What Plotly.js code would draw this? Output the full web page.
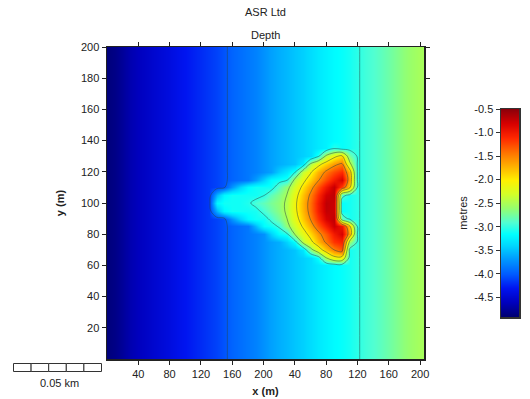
<!DOCTYPE html>
<html>
<head>
<meta charset="utf-8">
<script src="https://cdn.plot.ly/plotly-3.0.1.min.js"></script>
<style>html,body{margin:0;padding:0;background:#fff;}#chart{width:530px;height:399px;}</style>
</head>
<body>
<div id="chart"></div>
<script>
// ---- grid coordinates (m) ----
const xCoords = [0,10,20,30,40,50,60,70,80,90,100,110,120,130,140,150,160,170,180,190,200,210,220,230,240,250,260,270,280,290,300,310,320,330,340,350,360,370,380,390,400];
const yCoords = [0,5,10,15,20,25,30,35,40,45,50,55,60,65,70,75,80,85,90,95,100,105,110,115,120,125,130,135,140,145,150,155,160,165,170,175,180,185,190,195,200];

// background depth (m) for each x column
const bgDepth = [-4.87,-4.82,-4.74,-4.66,-4.6,-4.55,-4.5,-4.45,-4.4,-4.35,-4.3,-4.25,-4.2,-4.15,-4.1,-4.03,-3.95,-3.9,-3.85,-3.8,-3.72,-3.65,-3.59,-3.54,-3.48,-3.43,-3.36,-3.29,-3.23,-3.17,-3.13,-3.08,-3.02,-2.95,-2.9,-2.84,-2.77,-2.7,-2.63,-2.57,-2.52];

// reef depth (m) on a sub grid; null = background
const reefX = [130,140,150,160,170,180,190,200,210,220,230,240,250,260,270,280,290,300,310];
const reefY = [60,65,70,75,80,85,90,95,100,105,110,115,120,125,130,135];
const N = null;
const reefDepth = [
 /*60*/ [N,N,N,N,N,N,N,N,N,N,N,N,N,N,N,N,N,N,N],
 /*65*/ [N,N,N,N,N,N,N,N,N,N,N,N,N,N,-3.13,-2.48,-2.1,-2.1,N],
 /*70*/ [N,N,N,N,N,N,N,N,N,N,N,N,-3.3,-2.63,-2.2,-1.8,-1.5,-1.3,N],
 /*75*/ [N,N,N,N,N,N,N,N,N,N,-3.41,-3.14,-2.42,-2.1,-1.75,-1.45,-1.15,-1.05,-2.6],
 /*80*/ [N,N,N,N,N,N,N,N,-3.43,-3.15,-3.05,-2.49,-2.18,-1.88,-1.59,-1.32,-1.0,-0.8,-1.7],
 /*85*/ [N,N,N,N,N,N,-3.52,-3.16,-3.1,-2.97,-2.6,-2.3,-1.97,-1.65,-1.33,-1.03,-0.75,-0.97,-1.9],
 /*90*/ [N,N,N,-3.7,-3.42,-3.18,-3.1,-3.1,-2.93,-2.74,-2.5,-2.16,-1.82,-1.48,-1.14,-0.81,-0.7,-2.8,N],
 /*95*/ [N,-3.56,-3.19,-3.1,-3.1,-3.1,-3.08,-2.92,-2.79,-2.65,-2.44,-2.09,-1.74,-1.39,-1.03,-0.72,-0.75,N,N],
 /*100*/[N,-3.2,-3.1,-3.1,-3.1,-3.05,-2.91,-2.82,-2.72,-2.63,-2.44,-2.08,-1.73,-1.38,-1.02,-0.7,-0.75,N,N],
 /*105*/[N,-3.55,-3.19,-3.1,-3.1,-3.1,-3.1,-3.02,-2.83,-2.69,-2.49,-2.14,-1.79,-1.45,-1.11,-0.78,-0.7,-2.9,N],
 /*110*/[N,N,N,-3.7,-3.42,-3.18,-3.1,-3.1,-3.1,-2.85,-2.6,-2.27,-1.93,-1.61,-1.29,-0.98,-0.72,-1.2,-1.9],
 /*115*/[N,N,N,N,N,N,-3.66,-3.41,-3.16,-3.1,-3.05,-2.44,-2.13,-1.83,-1.54,-1.26,-1.01,-0.8,-1.7],
 /*120*/[N,N,N,N,N,N,N,N,N,-3.44,-3.28,-3.05,-2.36,-2.05,-1.72,-1.45,-1.25,-1.1,-1.8],
 /*125*/[N,N,N,N,N,N,N,N,N,N,N,N,-3.27,-2.45,-2.12,-1.85,-1.6,-1.45,-2.4],
 /*130*/[N,N,N,N,N,N,N,N,N,N,N,N,N,N,-3.05,-2.42,-2.1,-1.9,-2.75],
 /*135*/[N,N,N,N,N,N,N,N,N,N,N,N,N,N,N,N,-3.02,N,N]
];

// axis tick labels
const xTickVals = [40,80,120,160,200,240,280,320,360,400];
const xTickText = ['40','80','120','160','200','40','80','120','160','200'];
const yTickVals = [20,40,60,80,100,120,140,160,180,200];
const cbLevels = [-5.0,-4.5,-4.0,-3.5,-3.0,-2.5,-2.0,-1.5,-1.0,-0.5];
const cbTickVals = [-4.5,-4.0,-3.5,-3.0,-2.5,-2.0,-1.5,-1.0,-0.5];
const cbTickText = ['-4.5','-4.0','-3.5','-3.0','-2.5','-2.0','-1.5','-1.0','-0.5'];

// ---- build full depth table ----
const z = yCoords.map(function (yv) {
  const ri = reefY.indexOf(yv);
  return xCoords.map(function (xv, i) {
    const ci = reefX.indexOf(xv);
    if (ri >= 0 && ci >= 0 && reefDepth[ri][ci] !== null) return reefDepth[ri][ci];
    return bgDepth[i];
  });
});

const ZMIN = -4.92, ZMAX = -0.5;
function f(v){ return (v - ZMIN) / (ZMAX - ZMIN); }
const colorscale = [
  [0, 'rgb(0,0,110)'],
  [f(-4.6), 'rgb(0,0,190)'],
  [f(-4.3), 'rgb(0,20,240)'],
  [f(-4.0), 'rgb(0,90,255)'],
  [f(-3.7), 'rgb(0,150,255)'],
  [f(-3.4), 'rgb(0,215,255)'],
  [f(-3.15), 'rgb(0,255,255)'],
  [f(-2.9), 'rgb(80,255,210)'],
  [f(-2.6), 'rgb(150,255,110)'],
  [f(-2.3), 'rgb(210,255,40)'],
  [f(-2.0), 'rgb(255,240,0)'],
  [f(-1.7), 'rgb(255,175,0)'],
  [f(-1.4), 'rgb(255,110,0)'],
  [f(-1.1), 'rgb(255,40,0)'],
  [f(-0.8), 'rgb(215,0,0)'],
  [1, 'rgb(140,0,10)']
];

const FONT = 'Liberation Sans, Arial, Helvetica, sans-serif';
const lineCol = 'rgba(40,70,70,0.5)';

const traces = [
  {type:'heatmap', x:xCoords, y:yCoords, z:z, colorscale:colorscale, zmin:ZMIN, zmax:ZMAX,
   zsmooth:'best', showscale:false, hoverinfo:'skip'},
  {type:'contour', x:xCoords, y:yCoords, z:z, showscale:false, hoverinfo:'skip',
   contours:{coloring:'none', start:-4, end:-3, size:1}, line:{color:lineCol, width:1, smoothing:1}},
  {type:'contour', x:xCoords, y:yCoords, z:z, showscale:false, hoverinfo:'skip',
   contours:{coloring:'none', start:-2.5, end:-1.5, size:0.5}, line:{color:lineCol, width:1, smoothing:1}},
  {type:'heatmap', x:[0,1], y:cbLevels, z:cbLevels.map(function(v){return [v,v];}),
   colorscale:colorscale, zmin:ZMIN, zmax:ZMAX, zsmooth:'best', showscale:false,
   xaxis:'x2', yaxis:'y2', hoverinfo:'skip'}
];

// scale bar shapes
const shapes = [];
const sbLeft = 13.5, sbSeg = 17.6, sbTop = 363.5, sbBot = 371.5;
const plotL = 107, plotW = 415, plotB = 359, plotH = 312;
for (let k = 0; k < 5; k++) {
  shapes.push({type:'rect', xref:'paper', yref:'paper',
    x0:(sbLeft + k*sbSeg - plotL)/plotW, x1:(sbLeft + (k+1)*sbSeg - plotL)/plotW,
    y0:(plotB - sbBot)/plotH, y1:(plotB - sbTop)/plotH,
    line:{color:'#333', width:1}, fillcolor:'white'});
}

const axisCommon = {showgrid:false, zeroline:false, showline:true, linecolor:'#222', linewidth:1.5,
  ticks:'outside', ticklen:4, tickcolor:'#222', tickwidth:1, mirror:'ticks',
  tickfont:{family:FONT, size:11, color:'#222'}};

const layout = {
  width:530, height:399,
  margin:{l:107, r:8, t:47, b:40},
  paper_bgcolor:'white', plot_bgcolor:'white',
  showlegend:false,
  font:{family:FONT, size:11, color:'#222'},
  xaxis:Object.assign({}, axisCommon, {domain:[0, 317/415], range:[0,405],
    tickmode:'array', tickvals:xTickVals, ticktext:xTickText,
    title:{text:'<b>x (m)</b>', font:{family:FONT, size:11, color:'#222'}, standoff:8}}),
  yaxis:Object.assign({}, axisCommon, {domain:[0,1], range:[0,200],
    tickmode:'array', tickvals:yTickVals,
    title:{text:'<b>y (m)</b>', font:{family:FONT, size:11, color:'#222'}, standoff:14}}),
  xaxis2:{domain:[394/415, 412/415], range:[0,1], anchor:'y2', showgrid:false, zeroline:false,
    showticklabels:false, ticks:'', showline:true, mirror:true, linecolor:'#333', linewidth:1.5, fixedrange:true},
  yaxis2:{domain:[42/312, 250/312], range:[ZMIN, ZMAX], anchor:'x2', side:'left', showgrid:false, zeroline:false,
    showline:true, mirror:true, linecolor:'#333', linewidth:1.5, ticks:'outside', ticklen:4, tickcolor:'#333',
    tickmode:'array', tickvals:cbTickVals, ticktext:cbTickText,
    tickfont:{family:FONT, size:11, color:'#222'},
    title:{text:'metres', font:{family:FONT, size:11, color:'#222'}, standoff:4}},
  shapes:shapes,
  annotations:[
    {text:'ASR Ltd', xref:'x domain', yref:'paper', x:0.5, y:1, yanchor:'middle', yshift:35, showarrow:false,
     font:{family:FONT, size:11, color:'#222'}},
    {text:'Depth', xref:'x domain', yref:'paper', x:0.5, y:1, yanchor:'middle', yshift:12, showarrow:false,
     font:{family:FONT, size:11, color:'#222'}},
    {text:'0.05 km', xref:'paper', yref:'paper', x:(59-plotL)/plotW, y:(plotB-383)/plotH,
     xanchor:'center', yanchor:'middle', showarrow:false, font:{family:FONT, size:11, color:'#222'}}
  ]
};

Plotly.newPlot('chart', traces, layout, {staticPlot:true, displayModeBar:false});
</script>
</body>
</html>
